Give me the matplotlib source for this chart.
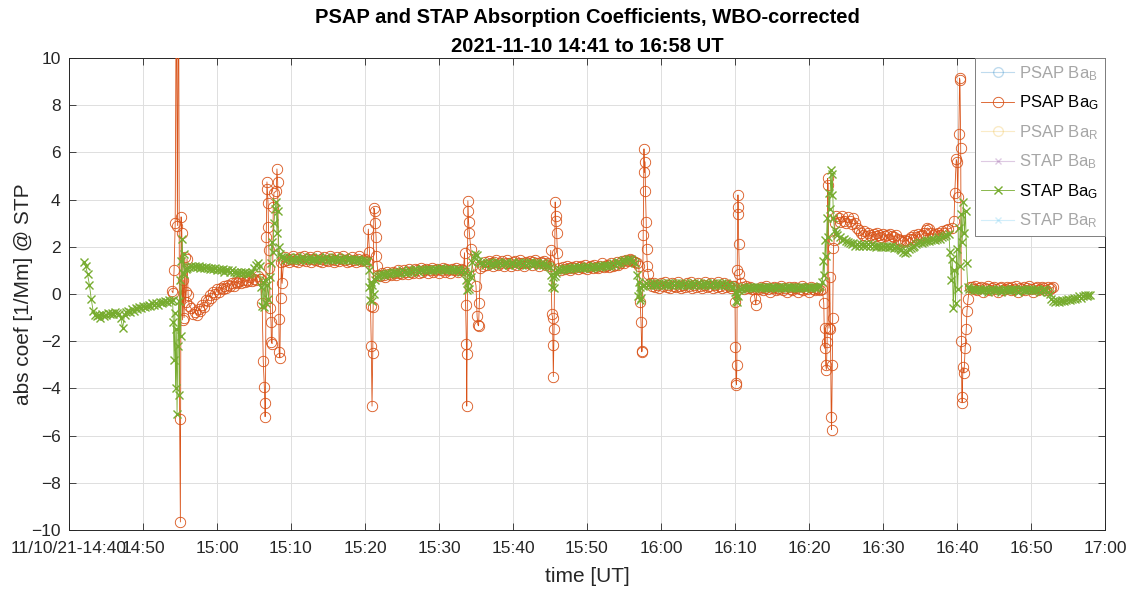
import numpy as np
import matplotlib
matplotlib.use("Agg")
import matplotlib.pyplot as plt

plt.rcParams['font.family'] = ['Liberation Sans', 'DejaVu Sans']
plt.rcParams['mathtext.fontset'] = 'custom'
plt.rcParams['mathtext.rm'] = 'Liberation Sans'
plt.rcParams['mathtext.it'] = 'Liberation Sans:italic'
plt.rcParams['mathtext.bf'] = 'Liberation Sans:bold'

# ---------------- data (time = minutes after 14:40 UT) ----------------
TITLE = "PSAP and STAP Absorption Coefficients, WBO-corrected\n2021-11-10 14:41 to 16:58 UT"
tick_minutes = [0, 10, 20, 30, 40, 50, 60, 70, 80, 90, 100, 110, 120, 130, 140]
tick_labels = ['11/10/21-14:40', '14:50', '15:00', '15:10', '15:20', '15:30', '15:40',
               '15:50', '16:00', '16:10', '16:20', '16:30', '16:40', '16:50', '17:00']
SAMPLE_STEP = 0.25  # minutes between samples in the steady stretches

# STAP Ba_G : steady stretches (start minute, values)
stap_seg_start = [2.0, 16.0, 29.0, 41.75, 56.0, 66.0, 78.0, 91.0, 104.5, 122.0]
stap_seg_a = [1.35, 1.2, 0.85, 0.4, -0.2, -0.7, -0.9, -0.95, -0.9, -1.0, -0.85, -0.95, -0.9, -0.8,
              -0.85, -0.8, -0.85, -0.75, -0.8, -0.85, -1.0, -1.45, -0.9, -0.75, -0.7, -0.75, -0.65,
              -0.7, -0.6, -0.65, -0.55, -0.6, -0.5, -0.55, -0.5, -0.45, -0.5, -0.4, -0.45, -0.4,
              -0.45, -0.35, -0.4, -0.35, -0.3, -0.35, -0.25, -0.3, -0.25]
stap_seg_b = [1.1, 1.15, 1.2, 1.15, 1.2, 1.15, 1.2, 1.1, 1.15, 1.1, 1.15, 1.1, 1.05, 1.1, 1.05,
              1.1, 1.0, 1.05, 1.0, 1.05, 0.95, 1.0, 1.0, 0.95, 1.0, 0.95, 0.9, 0.95, 0.9, 0.95,
              0.9, 0.95, 0.9, 0.85, 0.9, 0.95, 1.1, 1.25, 1.3]
stap_seg_c = [1.55, 1.45, 1.5, 1.55, 1.45, 1.5, 1.45, 1.55, 1.5, 1.45, 1.55, 1.5, 1.45, 1.5, 1.55,
              1.45, 1.5, 1.5, 1.45, 1.55, 1.5, 1.45, 1.5, 1.55, 1.45, 1.5, 1.45, 1.5, 1.55, 1.5,
              1.45, 1.5, 1.45, 1.55, 1.5, 1.45, 1.5, 1.45, 1.5, 1.45, 1.5, 1.45, 1.4, 1.45, 1.4, 1.35]
stap_seg_d = [0.75, 0.8, 0.85, 0.8, 0.85, 0.9, 0.85, 0.9, 0.95, 0.9, 0.95, 0.9, 0.95, 1.0, 0.95,
              0.9, 0.95, 1.0, 0.95, 1.0, 1.05, 1.0, 0.95, 1.0, 1.05, 1.0, 1.05, 1.0, 1.05, 1.0,
              1.0, 1.05, 1.0, 1.05, 1.1, 1.05, 1.0, 1.05, 1.0, 1.05, 1.0, 1.05, 1.0, 1.05, 1.0,
              0.95, 1.0, 0.95]
stap_seg_e = [1.3, 1.25, 1.3, 1.35, 1.25, 1.3, 1.25, 1.3, 1.35, 1.3, 1.25, 1.3, 1.35, 1.3, 1.25,
              1.3, 1.3, 1.25, 1.3, 1.35, 1.3, 1.25, 1.3, 1.25, 1.3, 1.35, 1.3, 1.25, 1.3, 1.3,
              1.25, 1.3, 1.25, 1.3, 1.25, 1.2, 1.15]
stap_seg_f = [1.0, 1.05, 1.0, 1.05, 1.1, 1.05, 1.1, 1.05, 1.1, 1.15, 1.1, 1.15, 1.1, 1.15, 1.1,
              1.15, 1.2, 1.15, 1.1, 1.15, 1.2, 1.15, 1.2, 1.15, 1.2, 1.25, 1.2, 1.25, 1.2, 1.25,
              1.3, 1.25, 1.3, 1.35, 1.3, 1.4, 1.45, 1.4, 1.5, 1.45, 1.5, 1.4, 1.3]
stap_seg_g = [0.45, 0.4, 0.45, 0.4, 0.45, 0.4, 0.4, 0.45, 0.4, 0.45, 0.4, 0.4, 0.45, 0.4, 0.45,
              0.4, 0.45, 0.4, 0.4, 0.45, 0.4, 0.45, 0.4, 0.4, 0.45, 0.4, 0.45, 0.4, 0.45, 0.4,
              0.4, 0.45, 0.4, 0.45, 0.4, 0.4, 0.45, 0.4, 0.45, 0.4, 0.4, 0.45, 0.4, 0.45, 0.4,
              0.4, 0.35, 0.3]
stap_seg_h = [0.25, 0.3, 0.25, 0.3, 0.3, 0.25, 0.3, 0.25, 0.3, 0.3, 0.25, 0.3, 0.3, 0.25, 0.3,
              0.25, 0.3, 0.3, 0.25, 0.3, 0.3, 0.25, 0.3, 0.25, 0.3, 0.3, 0.25, 0.3, 0.3, 0.25,
              0.3, 0.25, 0.3, 0.3, 0.25, 0.3, 0.3, 0.25, 0.3, 0.3, 0.25, 0.3, 0.35]
stap_seg_i = [2.3, 2.35, 2.25, 2.2, 2.15, 2.1, 2.15, 2.05, 2.1, 2.05, 2.1, 2.05, 2.1, 2.05, 2.1,
              2.05, 2.1, 2.05, 2.0, 2.05, 2.05, 2.0, 2.05, 2.0, 2.05, 2.0, 2.0, 2.05, 1.95, 2.0,
              1.95, 1.9, 1.85, 1.8, 1.75, 1.8, 1.9, 1.95, 2.0, 2.05, 2.1, 2.15, 2.2, 2.15, 2.2,
              2.25, 2.3, 2.25, 2.3, 2.35, 2.3, 2.35, 2.4, 2.35, 2.4, 2.45, 2.5]
stap_seg_j = [0.2, 0.15, 0.2, 0.15, 0.2, 0.15, 0.15, 0.2, 0.15, 0.1, 0.15, 0.2, 0.15, 0.15, 0.2,
              0.15, 0.1, 0.15, 0.2, 0.15, 0.15, 0.2, 0.15, 0.2, 0.15, 0.1, 0.15, 0.2, 0.15, 0.15,
              0.2, 0.15, 0.2, 0.15, 0.15, 0.2, 0.15, 0.1, 0.15, 0.2, 0.15, 0.1, 0.0,
              -0.2, -0.3, -0.35, -0.3, -0.35, -0.3, -0.25, -0.3, -0.25, -0.2, -0.25, -0.2, -0.15,
              -0.2, -0.15, -0.1, -0.15, -0.1, -0.05, -0.1, -0.05, -0.05]
# STAP Ba_G : transients (minute, value)
stap_evt_t = [14.1, 14.2, 14.3, 14.4, 14.5, 14.6, 14.7, 14.8, 14.9, 15.0, 15.1, 15.2, 15.3, 15.4, 15.5,
              15.6, 15.75,
              25.75, 25.9, 26.05, 26.2, 26.35, 26.5, 26.65, 26.8, 26.95, 27.1, 27.25, 27.4, 27.55, 27.7, 27.85,
              28.0, 28.1, 28.2, 28.35, 28.5, 28.7,
              40.3, 40.5, 40.6, 40.7, 40.8, 40.9, 41.0, 41.15, 41.3, 41.5,
              53.7, 53.8, 53.9, 54.0, 54.15, 54.3, 54.5, 54.7, 54.9, 55.1, 55.3, 55.5,
              65.2, 65.3, 65.4, 65.5, 65.65, 65.8,
              76.8, 76.9, 77.0, 77.1, 77.2, 77.35, 77.5, 77.7,
              90.0, 90.1, 90.2, 90.3, 90.45, 90.6, 90.8,
              101.8, 101.95, 102.05, 102.2, 102.3, 102.45, 102.55, 102.7, 102.8, 102.95, 103.05, 103.15,
              103.3, 103.45, 103.6, 103.8, 104.2,
              118.9, 119.05, 119.2, 119.35, 119.5, 119.65, 119.8, 119.95, 120.1, 120.25, 120.4, 120.55,
              120.7, 120.85, 121.0, 121.15, 121.3, 121.45, 121.6]
stap_evt_v = [-1.2, -2.8, -0.8, -4.0, -1.5, -5.1, -2.2, -0.3, -4.3, 0.6, -1.8, 1.4, 2.35, 0.9, 1.7,
              0.85, 1.05,
              1.2, 0.3, -0.5, 0.5, -0.55, 0.6, -0.4, 0.4, -0.2, 0.7, 1.3, 2.2, 1.8, 3.0, 3.6,
              3.9, 2.6, 3.5, 2.0, 1.7, 1.55,
              1.4, 1.0, 0.3, -0.25, 0.5, -0.3, 0.4, 0.0, 0.6, 0.7,
              0.6, 0.15, 0.5, 0.2, 0.9, 0.7, 1.35, 1.55, 1.7, 1.65, 1.4, 1.3,
              0.8, 0.3, 0.7, 0.25, 0.75, 0.9,
              0.8, -0.1, 0.5, -0.25, 0.3, -0.15, 0.35, 0.4,
              0.1, -0.3, 0.1, -0.35, -0.1, 0.15, 0.2,
              0.5, 1.4, 0.8, 2.3, 1.6, 3.2, 2.4, 4.3, 3.6, 5.25, 4.2, 5.1,
              3.2, 2.7, 2.6, 2.5, 2.4,
              2.55, 1.8, 0.6, 1.5, -0.6, 1.0, -0.4, 1.9, 0.2, 2.8, 1.2, 3.4,
              2.2, 3.9, 2.6, 3.5, 1.3, 0.3, 0.2]

# PSAP Ba_G : steady stretches (start minute, values)
psap_seg_start = [16.5, 29.0, 42.0, 56.0, 66.5, 78.75, 91.0, 93.25, 104.0, 122.0]
psap_seg_a = [-0.6, -0.85, -0.75, -0.9, -0.65, -0.7, -0.45, -0.55, -0.25, -0.3, -0.05, -0.15, 0.1,
              0.0, 0.2, 0.1, 0.25, 0.2, 0.35, 0.25, 0.4, 0.35, 0.45, 0.35, 0.5, 0.45, 0.55, 0.45,
              0.6, 0.5, 0.6, 0.55, 0.7, 0.55, 0.65, 0.6, 0.75, 0.65]
psap_seg_b = [1.4, 1.55, 1.45, 1.35, 1.5, 1.6, 1.4, 1.5, 1.35, 1.55, 1.45, 1.6, 1.4, 1.5, 1.55,
              1.35, 1.5, 1.45, 1.6, 1.4, 1.5, 1.35, 1.55, 1.45, 1.4, 1.6, 1.5, 1.35, 1.45, 1.55,
              1.4, 1.5, 1.6, 1.45, 1.35, 1.5, 1.4, 1.55, 1.45, 1.35, 1.5, 1.6, 1.4, 1.45, 1.5, 1.4]
psap_seg_c = [0.75, 0.9, 0.8, 0.7, 0.95, 0.85, 0.8, 0.95, 0.9, 0.8, 1.0, 0.9, 0.85, 1.0, 0.95,
              0.85, 1.05, 0.95, 0.9, 1.05, 1.0, 0.9, 1.1, 0.95, 1.0, 1.05, 0.9, 1.0, 1.1, 0.95,
              1.0, 1.05, 0.9, 1.0, 1.1, 0.95, 1.05, 1.0, 0.9, 1.05, 1.0, 1.1, 0.95, 1.0, 1.05]
psap_seg_d = [1.2, 1.35, 1.25, 1.4, 1.3, 1.2, 1.35, 1.45, 1.25, 1.3, 1.4, 1.2, 1.3, 1.45, 1.3,
              1.2, 1.35, 1.4, 1.25, 1.3, 1.45, 1.3, 1.2, 1.35, 1.3, 1.4, 1.25, 1.35, 1.45, 1.3,
              1.2, 1.35, 1.3, 1.4, 1.25, 1.3]
psap_seg_e = [1.0, 1.15, 1.05, 1.2, 1.1, 1.0, 1.15, 1.1, 1.2, 1.05, 1.15, 1.2, 1.1, 1.25, 1.05,
              1.15, 1.2, 1.1, 1.25, 1.15, 1.1, 1.2, 1.3, 1.15, 1.2, 1.25, 1.15, 1.3, 1.2, 1.25,
              1.35, 1.25, 1.3, 1.4, 1.3, 1.45, 1.4, 1.5, 1.45, 1.4, 1.35, 1.3]
psap_seg_f = [0.35, 0.45, 0.3, 0.4, 0.25, 0.45, 0.35, 0.5, 0.3, 0.4, 0.25, 0.45, 0.35, 0.3, 0.5,
              0.35, 0.25, 0.4, 0.3, 0.45, 0.35, 0.5, 0.25, 0.4, 0.3, 0.45, 0.35, 0.25, 0.4, 0.5,
              0.3, 0.35, 0.45, 0.25, 0.4, 0.3, 0.5, 0.35, 0.25, 0.45, 0.3, 0.4, 0.35, 0.25, 0.35]
psap_seg_g = [0.3, 0.2, 0.35, 0.25, 0.3, 0.2]
psap_seg_h = [0.2, 0.3, 0.15, 0.25, 0.35, 0.2, 0.1, 0.25, 0.3, 0.15, 0.25, 0.2, 0.35, 0.15, 0.25,
              0.1, 0.3, 0.2, 0.15, 0.3, 0.25, 0.1, 0.2, 0.35, 0.15, 0.25, 0.2, 0.1, 0.3, 0.2,
              0.15, 0.25, 0.2, 0.15]
psap_seg_i = [3.2, 3.05, 3.3, 3.1, 3.0, 3.25, 3.1, 2.95, 3.2, 3.0, 2.8, 2.7, 2.6, 2.5, 2.65,
              2.45, 2.6, 2.5, 2.4, 2.55, 2.45, 2.6, 2.5, 2.4, 2.55, 2.45, 2.5, 2.35, 2.55, 2.45,
              2.4, 2.5, 2.35, 2.3, 2.25, 2.2, 2.3, 2.25, 2.35, 2.4, 2.35, 2.5, 2.4, 2.55, 2.45,
              2.5, 2.6, 2.7, 2.8, 2.75, 2.6, 2.5, 2.55, 2.45, 2.6, 2.5, 2.65, 2.6, 2.7, 2.75]
psap_seg_j = [0.3, 0.2, 0.35, 0.15, 0.25, 0.3, 0.1, 0.25, 0.2, 0.35, 0.15, 0.25, 0.3, 0.2, 0.1,
              0.25, 0.3, 0.15, 0.2, 0.3, 0.25, 0.15, 0.3, 0.2, 0.35, 0.1, 0.25, 0.2, 0.3, 0.15,
              0.25, 0.35, 0.2, 0.1, 0.25, 0.3, 0.15, 0.2, 0.3, 0.25, 0.15, 0.3, 0.2, 0.25, 0.3]
# PSAP Ba_G : transients (minute, value)
psap_evt_t = [13.9, 14.05, 14.2, 14.35, 14.5, 14.65, 14.8, 14.95, 15.05, 15.15, 15.25, 15.35, 15.45,
              15.55, 15.65, 15.75, 15.85, 15.95, 16.1, 16.25,
              25.9, 26.1, 26.25, 26.4, 26.5, 26.55, 26.65, 26.75, 26.8, 26.9, 26.95, 27.0, 27.05, 27.2,
              27.3, 27.35, 27.45, 27.6, 27.7, 28.0, 28.1, 28.2, 28.35, 28.4, 28.5, 28.6, 28.7, 28.8,
              40.45, 40.6, 40.75, 40.85, 40.95, 41.05, 41.1, 41.2, 41.3, 41.4, 41.5, 41.55, 41.65, 41.8,
              53.3, 53.45, 53.6, 53.7, 53.75, 53.8, 53.9, 53.95, 54.0, 54.1, 54.3, 54.5, 55.0, 55.15,
              55.25, 55.35, 55.45, 55.6,
              65.0, 65.1, 65.25, 65.35, 65.4, 65.45, 65.55, 65.7, 65.75, 65.8, 65.9, 66.0, 66.2,
              77.0, 77.2, 77.3, 77.4, 77.45, 77.6, 77.7, 77.75, 77.85, 77.9, 78.0, 78.05, 78.15, 78.25, 78.5,
              89.9, 90.0, 90.05, 90.15, 90.2, 90.25, 90.3, 90.35, 90.4, 90.45, 90.5, 90.6, 90.8,
              92.5, 92.7, 92.8, 93.0,
              101.8, 102.0, 102.1, 102.2, 102.25, 102.35, 102.45, 102.5, 102.6, 102.7, 102.8, 102.9,
              103.0, 103.05, 103.15, 103.2, 103.3, 103.4, 103.5, 103.7,
              119.3, 119.6, 119.7, 119.9, 120.0, 120.1, 120.25, 120.35, 120.4, 120.5, 120.6, 120.65,
              120.7, 120.8, 120.95, 121.1, 121.25, 121.35, 121.5, 121.7]
psap_evt_v = [0.13, 0.05, 1.0, 3.0, 14.0, 2.9, 16.0, -5.3, -9.66, 3.27, 2.6, -1.1, 0.6,
              -1.0, 1.57, -0.35, 0.1, 1.5, -0.05, -0.5,
              0.65, -0.4, -2.85, -3.95, -5.2, -4.6, 2.4, 4.75, 4.45, 3.85, 2.85, 1.85, 1.1, -0.6,
              -1.2, -2.05, -2.1, 3.7, 4.3, 4.35, 5.3, 4.75, -1.05, -2.45, -2.7, -0.15, 1.35, 0.45,
              2.75, 1.8, -0.5, -2.2, -4.75, -2.5, -0.55, 3.65, 3.5, 3.0, 2.4, 1.6, 1.2, 0.8,
              1.0, 1.75, -0.45, -2.1, -4.75, -2.55, 3.95, 3.5, 3.05, 2.6, 1.9, 1.2, 0.35, -0.95,
              -1.3, -1.35, -0.4, 1.1,
              1.2, 1.85, -0.85, -1.0, -2.15, -3.5, -1.5, 3.9, 3.3, 3.1, 2.6, 1.75, 1.1,
              1.2, -0.35, -1.2, -2.45, -2.4, 2.5, 6.15, 5.15, 5.6, 4.35, 3.05, 1.9, 1.2, 0.85, 0.45,
              0.35, -0.35, -2.25, -3.75, -3.85, -3.0, 1.0, 3.4, 4.2, 3.7, 2.1, 0.85, 0.45,
              0.2, -0.2, -0.45, 0.2,
              0.2, -0.4, -2.3, -1.45, -3.0, -3.2, -2.05, 4.9, 4.6, -1.45, 0.7, -1.5,
              -5.2, -5.75, -3.0, -1.0, 1.95, 2.3, 3.0, 3.3,
              2.8, 3.1, 4.3, 5.7, 5.6, 4.1, 6.8, 9.15, 9.05, 6.2, -2.0, -4.35,
              -4.6, -3.1, -3.35, -2.3, -1.5, -0.7, -0.2, 0.3]

legend_labels = ['PSAP Ba$_\\mathregular{B}$', 'PSAP Ba$_\\mathregular{G}$', 'PSAP Ba$_\\mathregular{R}$',
                 'STAP Ba$_\\mathregular{B}$', 'STAP Ba$_\\mathregular{G}$', 'STAP Ba$_\\mathregular{R}$']


def build(seg_start, segs, evt_t, evt_v):
    t, v = [], []
    for s, vals in zip(seg_start, segs):
        t += [s + SAMPLE_STEP * k for k in range(len(vals))]
        v += list(vals)
    t += list(evt_t)
    v += list(evt_v)
    t = np.array(t, dtype=float)
    v = np.array(v, dtype=float)
    order = np.argsort(t, kind='stable')
    return t[order], v[order]


stap_t, stap_g = build(stap_seg_start,
                       [stap_seg_a, stap_seg_b, stap_seg_c, stap_seg_d, stap_seg_e,
                        stap_seg_f, stap_seg_g, stap_seg_h, stap_seg_i, stap_seg_j],
                       stap_evt_t, stap_evt_v)
psap_t, psap_g = build(psap_seg_start,
                       [psap_seg_a, psap_seg_b, psap_seg_c, psap_seg_d, psap_seg_e,
                        psap_seg_f, psap_seg_g, psap_seg_h, psap_seg_i, psap_seg_j],
                       psap_evt_t, psap_evt_v)

# ---------------- styling ----------------
C_BLUE = (0.0, 0.447, 0.741)
C_ORANGE = (0.85, 0.325, 0.098)
C_YELLOW = (0.929, 0.694, 0.125)
C_PURPLE = (0.494, 0.184, 0.556)
C_GREEN = (0.466, 0.674, 0.188)
C_CYAN = (0.301, 0.745, 0.933)
AX_COLOR = '#262626'

fig = plt.figure(figsize=(11.34, 5.89), dpi=100)
ax = fig.add_axes([69 / 1134, 59 / 589, 1036 / 1134, 472 / 589])

h_pb, = ax.plot([], [], '-o', color=C_BLUE, alpha=0.25, mfc='none', ms=7, lw=0.8)
h_pg, = ax.plot(psap_t, psap_g, '-o', color=C_ORANGE, mfc='none', ms=7.5, mew=0.6, lw=0.6, zorder=3)
h_pr, = ax.plot([], [], '-o', color=C_YELLOW, alpha=0.25, mfc='none', ms=7, lw=0.8)
h_sb, = ax.plot([], [], '-x', color=C_PURPLE, alpha=0.25, ms=5, lw=0.8)
h_sg, = ax.plot(stap_t, stap_g, '-x', color=C_GREEN, ms=6, mew=1.0, lw=0.6, zorder=4)
h_sr, = ax.plot([], [], '-x', color=C_CYAN, alpha=0.25, ms=5, lw=0.8)

ax.set_xlim(tick_minutes[0], tick_minutes[-1])
ax.set_ylim(-10, 10)
ax.set_xticks(tick_minutes)
ax.set_xticklabels(tick_labels)
ax.set_yticks(np.arange(-10, 11, 2))
ax.grid(True, color='#dfdfdf', lw=0.7)
ax.set_axisbelow(True)
ax.tick_params(direction='in', length=5, width=0.6, colors=AX_COLOR, labelsize=12.5,
               top=True, right=True, labelcolor=AX_COLOR)
ax.tick_params(axis='x', pad=8)
ax.tick_params(axis='y', pad=6)
for sp in ax.spines.values():
    sp.set_color(AX_COLOR)
    sp.set_linewidth(0.7)

ax.set_xlabel('time [UT]', fontsize=15, color=AX_COLOR, labelpad=8)
ax.set_ylabel('abs coef [1/Mm] @ STP', fontsize=15, color=AX_COLOR, labelpad=-1)
ax.set_title(TITLE, fontsize=14.5, fontweight='bold', color='black', linespacing=1.7, pad=4)

leg = ax.legend([h_pb, h_pg, h_pr, h_sb, h_sg, h_sr], legend_labels, loc='upper right',
                borderaxespad=0.0, fontsize=12, frameon=True, fancybox=False, framealpha=1,
                edgecolor='#7f7f7f', handlelength=2.0, handletextpad=0.3, labelspacing=0.65,
                borderpad=0.35)
leg.get_frame().set_linewidth(0.7)
for i, txt in enumerate(leg.get_texts()):
    txt.set_color('black' if i in (1, 4) else '#a6a6a6')

fig.savefig('out.png', dpi=100)
